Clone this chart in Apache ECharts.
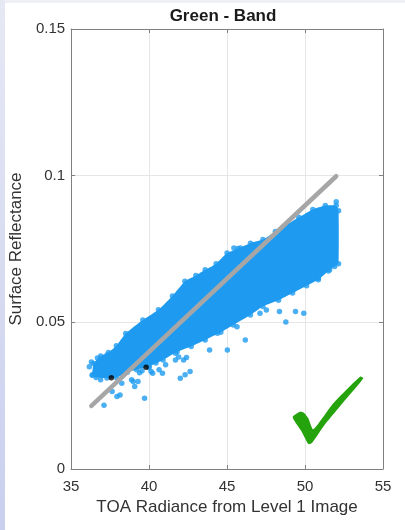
<!DOCTYPE html>
<html>
<head>
<meta charset="utf-8">
<script src="https://cdn.jsdelivr.net/npm/echarts@6/dist/echarts.min.js"></script>
<style>
  html, body { margin: 0; padding: 0; background: #ffffff; }
  #chart { width: 405px; height: 530px; }
</style>
</head>
<body>
<div id="chart"></div>
<script>
// Axis ticks
const xTicks = [35, 40, 45, 50, 55];
const yTicks = [0, 0.05, 0.1, 0.15];

// Outline of the dense point cloud: upper edge (left to right)
const cloudUpper = [
  [36.35, 0.0320], [36.45, 0.0360], [36.9, 0.0385], [37.4, 0.0397], [37.9, 0.0420],
  [38.5, 0.0462], [39.6, 0.0508], [40.6, 0.0543], [41.5, 0.0590], [42.3, 0.0640],
  [43.0, 0.0660], [43.6, 0.0679], [44.3, 0.0700], [45.0, 0.0736], [45.7, 0.0752],
  [46.5, 0.0770], [47.3, 0.0782], [48.1, 0.0810], [48.9, 0.0835], [49.6, 0.0858],
  [50.5, 0.0885], [51.3, 0.0898], [52.0, 0.0898], [52.15, 0.0880], [52.15, 0.0700]
];
// ... and lower edge (right to left)
const cloudLower = [
  [51.9, 0.0690], [51.5, 0.0675], [50.85, 0.0645], [50.1, 0.0625], [49.2, 0.0600],
  [48.3, 0.0575], [47.3, 0.0554], [46.5, 0.0525], [45.4, 0.0491], [44.6, 0.0466],
  [43.6, 0.0440], [42.7, 0.0418], [41.8, 0.0400], [40.9, 0.0372], [40.0, 0.0350],
  [39.2, 0.0338], [38.6, 0.0330], [37.9, 0.0312], [37.3, 0.0310], [36.6, 0.0312]
];

// Scattered points away from the dense cloud
const outliers = [
  [36.17, 0.0349], [36.38, 0.0321], [36.69, 0.0378], [37.31, 0.0389], [36.79, 0.0343],
  [36.89, 0.0304], [37.11, 0.0217], [37.63, 0.0264], [37.94, 0.0247], [38.14, 0.0252],
  [38.25, 0.0292], [38.88, 0.0304], [38.98, 0.0298], [39.08, 0.0281], [39.29, 0.0298],
  [39.39, 0.0328], [39.71, 0.0241], [40.13, 0.0332], [40.23, 0.0326], [40.64, 0.0338],
  [40.86, 0.0326], [40.44, 0.0361], [41.06, 0.0355], [41.69, 0.0372], [41.69, 0.0395],
  [42.0, 0.0309], [42.31, 0.0321], [42.63, 0.0332], [42.21, 0.0372], [43.46, 0.0446],
  [43.88, 0.0406], [44.39, 0.0463], [45.02, 0.0406], [45.64, 0.0485], [46.17, 0.0440],
  [47.11, 0.0531], [47.52, 0.0542], [48.36, 0.0537], [48.77, 0.0501], [49.39, 0.0537],
  [49.92, 0.0531], [50.86, 0.0650], [51.58, 0.0679], [42.63, 0.0639], [45.44, 0.0753],
  [45.86, 0.0753], [46.69, 0.0764], [50.44, 0.0872], [52.0, 0.0911],
  [36.3, 0.0365], [36.6, 0.0333], [38.0, 0.0330], [38.3, 0.0318], [39.55, 0.0335],
  [40.0, 0.0345], [41.9, 0.0382], [42.4, 0.0380]
];

// Two highlighted samples
const highlighted = [[37.58, 0.0311], [39.81, 0.0347]];

// Fitted line end points
const fitX = [36.3, 52.0];
const fitY = [0.0215, 0.0998];

const BLUE = '#1e9bf0';
const AXIS = '#808080';
const TEXT = '#333333';
const FONT = 'Liberation Sans, Arial, sans-serif';

const chart = echarts.init(document.getElementById('chart'));

const fmt = v => String(Number(v.toFixed(4)));

chart.setOption({
  animation: false,
  backgroundColor: '#ffffff',
  title: {
    text: 'Green - Band',
    left: 223, top: 8, textAlign: 'center', padding: 0,
    textStyle: { fontFamily: FONT, fontSize: 17, fontWeight: 'bold', color: '#1a1a1a' }
  },
  grid: { left: 63, top: 29, width: 320, height: 440, show: false },
  xAxis: [{
    type: 'value', min: xTicks[0], max: xTicks[xTicks.length - 1], interval: 5,
    name: 'TOA Radiance from Level 1 Image', nameLocation: 'middle', nameGap: 29,
    nameTextStyle: { fontFamily: FONT, fontSize: 17, color: TEXT },
    axisLine: { show: true, onZero: false, lineStyle: { color: AXIS, width: 1 } },
    axisTick: { show: true, inside: true, length: 4, lineStyle: { color: AXIS } },
    axisLabel: { fontFamily: FONT, fontSize: 15, color: TEXT, margin: 10, formatter: fmt },
    splitLine: { show: true, lineStyle: { color: '#e6e6e6', width: 1 } }
  }, {
    type: 'value', position: 'top', min: xTicks[0], max: xTicks[xTicks.length - 1], interval: 5,
    axisLine: { show: true, onZero: false, lineStyle: { color: AXIS, width: 1 } },
    axisTick: { show: true, inside: true, length: 4, lineStyle: { color: AXIS } },
    axisLabel: { show: false }, splitLine: { show: false }
  }],
  yAxis: [{
    type: 'value', min: yTicks[0], max: yTicks[yTicks.length - 1], interval: 0.05,
    name: 'Surface Reflectance', nameLocation: 'middle', nameGap: 40,
    nameTextStyle: { fontFamily: FONT, fontSize: 17, color: TEXT },
    axisLine: { show: true, onZero: false, lineStyle: { color: AXIS, width: 1 } },
    axisTick: { show: true, inside: true, length: 4, lineStyle: { color: AXIS } },
    axisLabel: { fontFamily: FONT, fontSize: 15, color: TEXT, margin: 6, formatter: fmt },
    splitLine: { show: true, lineStyle: { color: '#e6e6e6', width: 1 } }
  }, {
    type: 'value', position: 'right', min: yTicks[0], max: yTicks[yTicks.length - 1], interval: 0.05,
    axisLine: { show: true, onZero: false, lineStyle: { color: AXIS, width: 1 } },
    axisTick: { show: true, inside: true, length: 4, lineStyle: { color: AXIS } },
    axisLabel: { show: false }, splitLine: { show: false }
  }],
  series: [
    {
      // dense cloud drawn as a filled outline
      type: 'custom', xAxisIndex: 0, yAxisIndex: 0, z: 2,
      data: [[cloudUpper[0][0], cloudUpper[0][1]]],
      renderItem: function (params, api) {
        const pts = cloudUpper.concat(cloudLower).map(p => api.coord(p));
        return { type: 'polygon', shape: { points: pts, smooth: 0.15 }, style: { fill: BLUE } };
      },
      silent: true
    },
    {
      type: 'scatter', z: 3, symbol: 'circle', symbolSize: 5.5,
      itemStyle: { color: BLUE },
      data: cloudUpper.concat(cloudLower).concat(outliers)
    },
    {
      type: 'line', z: 4, symbol: 'none',
      lineStyle: { color: '#a6a6a6', width: 4.5, cap: 'round' },
      data: fitX.map((x, i) => [x, fitY[i]])
    },
    {
      type: 'scatter', z: 5, symbol: 'circle', symbolSize: 5.5,
      itemStyle: { color: '#000000' },
      data: highlighted
    }
  ],
  graphic: [
    {
      type: 'rect', left: 0, top: 0, z: -1,
      shape: { x: 0, y: 0, width: 405, height: 3 },
      style: { fill: '#eff0f6' }
    },
    {
      type: 'rect', left: 0, top: 0, z: -1,
      shape: { x: 0, y: 0, width: 5, height: 530 },
      style: {
        fill: new echarts.graphic.LinearGradient(0, 0, 0, 1, [
          { offset: 0, color: '#e6e8f4' }, { offset: 1, color: '#c9d0ee' }
        ])
      }
    },
    {
      // green check mark
      type: 'polygon', z: 10,
      shape: {
        smooth: 0.2,
        points: [
          [292.7, 416.7], [300, 411.7], [304, 412.7], [308.3, 418.3], [313.3, 429.3],
          [333.3, 403.3], [360, 376.7], [363.3, 378.3], [346.7, 398.3], [323.3, 426.7],
          [311.7, 443.3], [308.3, 444], [301.7, 431.7], [295, 421.7]
        ]
      },
      style: { fill: '#25a30c' }
    }
  ]
});
</script>
</body>
</html>
